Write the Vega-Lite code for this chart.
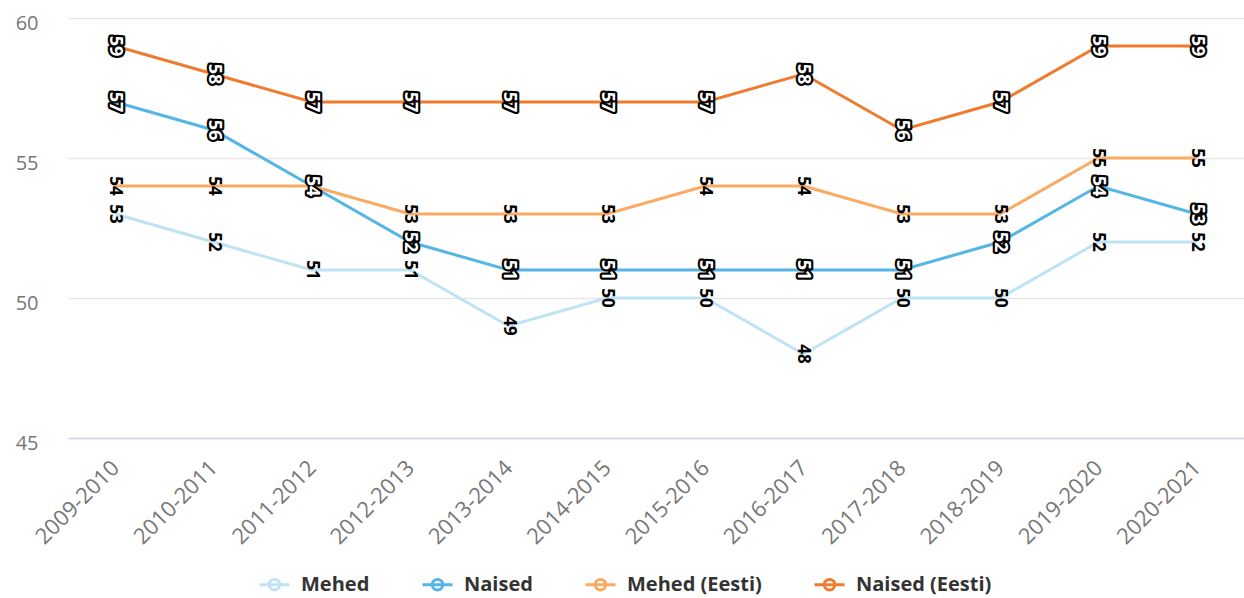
{
  "$schema": "https://vega.github.io/schema/vega-lite/v6.json",
  "width": 1176,
  "height": 420,
  "padding": {"left": 15, "top": 13, "right": 0, "bottom": 5},
  "background": "white",
  "config": {"view": {"stroke": null}, "font": "Open Sans"},
  "data": {
    "values": [
      {"year": "2009-2010", "series": "Mehed", "value": 53},
      {"year": "2010-2011", "series": "Mehed", "value": 52},
      {"year": "2011-2012", "series": "Mehed", "value": 51},
      {"year": "2012-2013", "series": "Mehed", "value": 51},
      {"year": "2013-2014", "series": "Mehed", "value": 49},
      {"year": "2014-2015", "series": "Mehed", "value": 50},
      {"year": "2015-2016", "series": "Mehed", "value": 50},
      {"year": "2016-2017", "series": "Mehed", "value": 48},
      {"year": "2017-2018", "series": "Mehed", "value": 50},
      {"year": "2018-2019", "series": "Mehed", "value": 50},
      {"year": "2019-2020", "series": "Mehed", "value": 52},
      {"year": "2020-2021", "series": "Mehed", "value": 52},
      {"year": "2009-2010", "series": "Naised", "value": 57},
      {"year": "2010-2011", "series": "Naised", "value": 56},
      {"year": "2011-2012", "series": "Naised", "value": 54},
      {"year": "2012-2013", "series": "Naised", "value": 52},
      {"year": "2013-2014", "series": "Naised", "value": 51},
      {"year": "2014-2015", "series": "Naised", "value": 51},
      {"year": "2015-2016", "series": "Naised", "value": 51},
      {"year": "2016-2017", "series": "Naised", "value": 51},
      {"year": "2017-2018", "series": "Naised", "value": 51},
      {"year": "2018-2019", "series": "Naised", "value": 52},
      {"year": "2019-2020", "series": "Naised", "value": 54},
      {"year": "2020-2021", "series": "Naised", "value": 53},
      {"year": "2009-2010", "series": "Mehed (Eesti)", "value": 54},
      {"year": "2010-2011", "series": "Mehed (Eesti)", "value": 54},
      {"year": "2011-2012", "series": "Mehed (Eesti)", "value": 54},
      {"year": "2012-2013", "series": "Mehed (Eesti)", "value": 53},
      {"year": "2013-2014", "series": "Mehed (Eesti)", "value": 53},
      {"year": "2014-2015", "series": "Mehed (Eesti)", "value": 53},
      {"year": "2015-2016", "series": "Mehed (Eesti)", "value": 54},
      {"year": "2016-2017", "series": "Mehed (Eesti)", "value": 54},
      {"year": "2017-2018", "series": "Mehed (Eesti)", "value": 53},
      {"year": "2018-2019", "series": "Mehed (Eesti)", "value": 53},
      {"year": "2019-2020", "series": "Mehed (Eesti)", "value": 55},
      {"year": "2020-2021", "series": "Mehed (Eesti)", "value": 55},
      {"year": "2009-2010", "series": "Naised (Eesti)", "value": 59},
      {"year": "2010-2011", "series": "Naised (Eesti)", "value": 58},
      {"year": "2011-2012", "series": "Naised (Eesti)", "value": 57},
      {"year": "2012-2013", "series": "Naised (Eesti)", "value": 57},
      {"year": "2013-2014", "series": "Naised (Eesti)", "value": 57},
      {"year": "2014-2015", "series": "Naised (Eesti)", "value": 57},
      {"year": "2015-2016", "series": "Naised (Eesti)", "value": 57},
      {"year": "2016-2017", "series": "Naised (Eesti)", "value": 58},
      {"year": "2017-2018", "series": "Naised (Eesti)", "value": 56},
      {"year": "2018-2019", "series": "Naised (Eesti)", "value": 57},
      {"year": "2019-2020", "series": "Naised (Eesti)", "value": 59},
      {"year": "2020-2021", "series": "Naised (Eesti)", "value": 59}
    ]
  },
  "encoding": {
    "x": {
      "field": "year",
      "type": "ordinal",
      "scale": {"type": "point", "padding": 0.48},
      "axis": {
        "title": null,
        "labelAngle": -45,
        "labelAlign": "right",
        "labelBaseline": "middle",
        "labelPadding": 26,
        "labelFontSize": 22,
        "labelColor": "#777777",
        "ticks": false,
        "grid": false,
        "domainColor": "#ccd6eb",
        "domainWidth": 1.5
      }
    },
    "y": {
      "field": "value",
      "type": "quantitative",
      "scale": {"domain": [45, 60], "nice": false, "zero": false},
      "axis": {
        "title": null,
        "values": [45, 50, 55, 60],
        "grid": true,
        "gridColor": "#e6e6e6",
        "gridWidth": 1.5,
        "domain": false,
        "ticks": false,
        "labelPadding": 30,
        "labelOffset": 5,
        "labelFontSize": 20,
        "labelColor": "#777777"
      }
    }
  },
  "layer": [
    {
      "mark": {"type": "line", "strokeWidth": 3},
      "encoding": {
        "color": {
          "field": "series",
          "type": "nominal",
          "scale": {
            "domain": ["Mehed", "Naised", "Mehed (Eesti)", "Naised (Eesti)"],
            "range": ["#bfe3f5", "#55b6e6", "#fbaa63", "#ef7b2e"]
          },
          "legend": {
            "title": null,
            "orient": "none",
            "legendX": 190,
            "legendY": 550,
            "direction": "horizontal",
            "symbolType": "M-1,0H1M-0.35,0A0.35,0.35,0,1,1,0.35,0A0.35,0.35,0,1,1,-0.35,0Z",
            "symbolSize": 900,
            "symbolStrokeWidth": 3,
            "labelFontSize": 20,
            "labelFontWeight": "bold",
            "labelColor": "#333333",
            "labelOffset": 10,
            "columnPadding": 46
          }
        }
      }
    },
    {
      "transform": [{"filter": "datum.series === 'Mehed' || datum.series === 'Mehed (Eesti)'"}],
      "mark": {
        "type": "text",
        "angle": 90,
        "align": "center",
        "baseline": "middle",
        "fontSize": 17,
        "fontWeight": "bold",
        "fill": "#000000"
      },
      "encoding": {"text": {"field": "value", "type": "quantitative"}}
    },
    {
      "transform": [{"filter": "datum.series === 'Naised' || datum.series === 'Naised (Eesti)'"}],
      "mark": {
        "type": "text",
        "angle": 90,
        "align": "center",
        "baseline": "middle",
        "fontSize": 18,
        "fontWeight": "bold",
        "fill": "#000000",
        "stroke": "#000000",
        "strokeWidth": 4.5,
        "strokeJoin": "round"
      },
      "encoding": {"text": {"field": "value", "type": "quantitative"}}
    },
    {
      "transform": [{"filter": "datum.series === 'Naised' || datum.series === 'Naised (Eesti)'"}],
      "mark": {
        "type": "text",
        "angle": 90,
        "align": "center",
        "baseline": "middle",
        "fontSize": 18,
        "fontWeight": "bold",
        "fill": "#ffffff"
      },
      "encoding": {"text": {"field": "value", "type": "quantitative"}}
    }
  ]
}
